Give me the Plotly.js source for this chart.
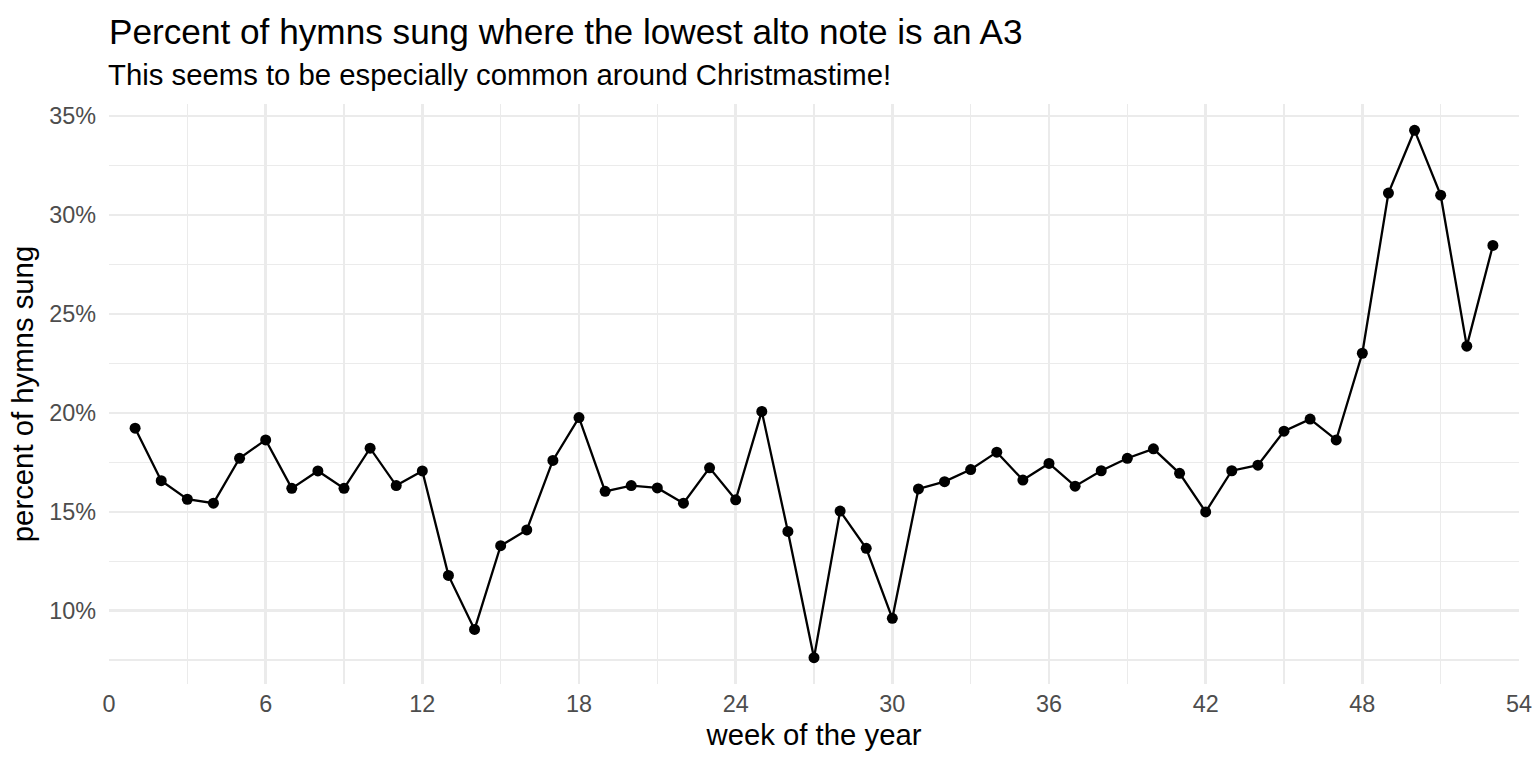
<!DOCTYPE html>
<html>
<head>
<meta charset="utf-8">
<script src="https://cdn.plot.ly/plotly-3.0.1.min.js"></script>
<style>html,body{margin:0;padding:0;background:#fff;}#chart{width:1536px;height:768px;}</style>
</head>
<body>
<div id="chart"></div>
<script>
const weeks = [1,2,3,4,5,6,7,8,9,10,11,12,13,14,15,16,17,18,19,20,21,22,23,24,25,26,27,28,29,30,31,32,33,34,35,36,37,38,39,40,41,42,43,44,45,46,47,48,49,50,51,52,53];
const percentSung = [19.22,16.57,15.63,15.43,17.70,18.63,16.18,17.06,16.18,18.21,16.32,17.06,11.78,9.05,13.28,14.08,17.59,19.76,
  16.03,16.32,16.20,15.43,17.22,15.60,20.07,14.00,7.62,15.03,13.15,9.61,16.15,16.52,17.13,18.01,16.60,
  17.44,16.29,17.07,17.70,18.18,16.94,14.99,17.07,17.35,19.07,19.68,18.63,23.01,31.11,34.28,31.00,23.37,28.46];
const xTicks = [0,6,12,18,24,30,36,42,48,54];
const yTicks = [10,15,20,25,30,35];
const yTickLabels = ["10%","15%","20%","25%","30%","35%"];
const titleText = "Percent of hymns sung where the lowest alto note is an A3";
const subtitleText = "This seems to be especially common around Christmastime!";

const FONT = "Liberation Sans, Arial, Helvetica, sans-serif";
const trace = {
  x: weeks, y: percentSung, type: "scatter", mode: "lines+markers",
  line: {color: "#000000", width: 2.3},
  marker: {color: "#000000", size: 11},
  hoverinfo: "x+y"
};
const layout = {
  width: 1536, height: 768,
  paper_bgcolor: "#ffffff", plot_bgcolor: "#ffffff",
  margin: {l: 109, r: 17, t: 104, b: 84},
  font: {family: FONT, color: "#000000"},
  showlegend: false,
  title: {
    text: titleText,
    font: {family: FONT, size: 35.2, color: "#000000"},
    xref: "container", x: 109/1536, xanchor: "left",
    yref: "container", y: 1 - 31.5/768, yanchor: "middle"
  },
  annotations: [{
    text: subtitleText, showarrow: false,
    xref: "paper", x: 0, xanchor: "left", xshift: -3,
    yref: "paper", y: (684 - 74.5)/580, yanchor: "middle",
    font: {family: FONT, size: 29.3, color: "#000000"}
  }],
  xaxis: {
    range: [0, 54], tickvals: xTicks, ticktext: xTicks.map(String),
    showgrid: true, gridcolor: "#EBEBEB", gridwidth: 2.4,
    zeroline: false, showline: false, ticks: "",
    tickfont: {family: FONT, size: 23.4, color: "#4D4D4D"},
    ticklabelstandoff: 4,
    minor: {dtick: 3, tick0: 0, showgrid: true, gridcolor: "#EBEBEB", gridwidth: 1.2},
    title: {text: "week of the year", font: {family: FONT, size: 29.3, color: "#000000"}, standoff: 8},
    automargin: false
  },
  yaxis: {
    range: [6.29, 35.61], tickvals: yTicks, ticktext: yTickLabels,
    showgrid: true, gridcolor: "#EBEBEB", gridwidth: 2.4,
    zeroline: false, showline: false, ticks: "",
    tickfont: {family: FONT, size: 23.4, color: "#4D4D4D"},
    ticklabelstandoff: 12,
    minor: {dtick: 2.5, tick0: 0, showgrid: true, gridcolor: "#EBEBEB", gridwidth: 1.2},
    title: {text: "percent of hymns sung", font: {family: FONT, size: 29.3, color: "#000000"}, standoff: 6},
    automargin: false
  }
};
Plotly.newPlot("chart", [trace], layout, {staticPlot: true, displayModeBar: false});
</script>
</body>
</html>
